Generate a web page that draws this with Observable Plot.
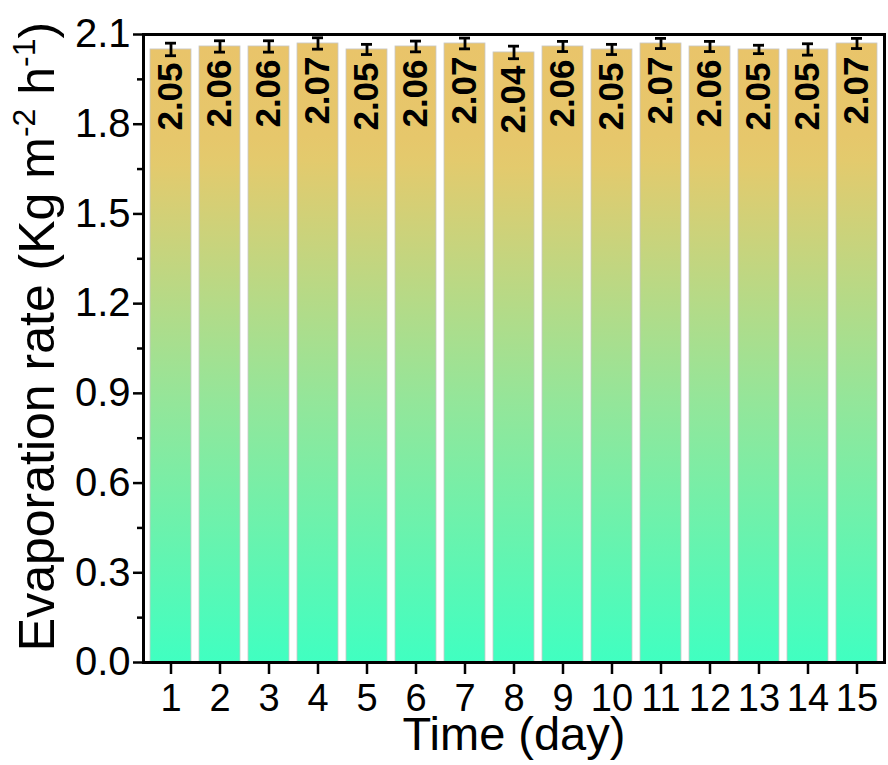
<!DOCTYPE html>
<html><head><meta charset="utf-8">
<script src="https://cdn.jsdelivr.net/npm/d3@7"></script>
<script src="https://cdn.jsdelivr.net/npm/@observablehq/plot@0.6"></script>
<style>body{margin:0;background:#fff}</style>
</head><body><div id="chart"></div>
<script>
const days = ["1","2","3","4","5","6","7","8","9","10","11","12","13","14","15"];
const rates = [2.05,2.06,2.06,2.07,2.05,2.06,2.07,2.04,2.06,2.05,2.07,2.06,2.05,2.05,2.07];
const errors = [0.021,0.019,0.019,0.019,0.017,0.018,0.018,0.021,0.017,0.017,0.017,0.017,0.014,0.019,0.017];
const rateLabels = ["2.05","2.06","2.06","2.07","2.05","2.06","2.07","2.04","2.06","2.05","2.07","2.06","2.05","2.05","2.07"];
const yTicks = [0,0.3,0.6,0.9,1.2,1.5,1.8,2.1];
const yMinorTicks = [0.15,0.45,0.75,1.05,1.35,1.65,1.95];
const xTitle = "Time (day)";
const yTitleParts = ["Evaporation rate (Kg m", "-2", " h", "-1", ")"];
const yTitle = yTitleParts.join("");

const data = days.map((d, i) => ({day: d, rate: rates[i], err: errors[i], label: rateLabels[i]}));
const font = "'Liberation Sans', Arial, Helvetica, sans-serif";

const plot = Plot.plot({
  width: 888, height: 765,
  marginLeft: 143, marginRight: 4, marginTop: 34, marginBottom: 103,
  style: {fontFamily: font, background: "white", color: "black"},
  x: {domain: days, padding: 0},
  y: {domain: [0, 2.1]},
  marks: [
    Plot.barY(data, {x: "day", y: "rate", fill: "url(#evapGradient)", stroke: "#c8c8c8", strokeWidth: 0.8, insetLeft: 4, insetRight: 4}),
    Plot.ruleX(data, {x: "day", y1: d => d.rate - d.err, y2: d => d.rate + d.err, stroke: "black", strokeWidth: 2.8}),
    Plot.tickY(data, {x: "day", y: d => d.rate + d.err, stroke: "black", strokeWidth: 2.8, insetLeft: 19, insetRight: 19}),
    Plot.tickY(data, {x: "day", y: d => d.rate - d.err, stroke: "black", strokeWidth: 2.8, insetLeft: 19, insetRight: 19}),
    Plot.text(data, {x: "day", y: "rate", text: "label", rotate: -90, textAnchor: "end", dy: 13, fontSize: 35, fontWeight: "bold", fill: "black"}),
    Plot.axisY({ticks: yTicks, tickFormat: d3.format(".1f"), fontSize: 40, tickSize: 10, tickPadding: 3, strokeWidth: 2.5, label: null}),
    Plot.axisY({ticks: yMinorTicks, tickSize: 6, text: null, strokeWidth: 2.5, label: null}),
    Plot.axisX({fontSize: 38, tickSize: 12, tickPadding: 10, strokeWidth: 2.5, label: null}),
    Plot.frame({stroke: "black", strokeWidth: 3}),
    Plot.text([xTitle], {text: d => d, frameAnchor: "bottom", dy: 87, fontSize: 47, fill: "black"}),
    Plot.text([yTitle], {text: d => d, frameAnchor: "left", textAnchor: "middle", dx: -106, dy: -12, rotate: -90, fontSize: 50, fill: "black"})
  ]
});

const svg = plot.tagName.toLowerCase() === "svg" ? plot : plot.querySelector("svg");
const ns = "http://www.w3.org/2000/svg";
const defs = document.createElementNS(ns, "defs");
const grad = document.createElementNS(ns, "linearGradient");
grad.setAttribute("id", "evapGradient");
grad.setAttribute("x1", "0"); grad.setAttribute("y1", "0");
grad.setAttribute("x2", "0"); grad.setAttribute("y2", "1");
[["0", "#E9C46A"], ["0.15", "#E6C76B"], ["0.19", "#E3CA6D"], ["0.58", "#93E69A"], ["1", "#40FFC1"]].forEach(([o, c]) => {
  const s = document.createElementNS(ns, "stop");
  s.setAttribute("offset", o); s.setAttribute("stop-color", c);
  grad.appendChild(s);
});
defs.appendChild(grad);
svg.insertBefore(defs, svg.firstChild);

const yt = [...svg.querySelectorAll("text")].find(e => e.textContent === yTitle);
if (yt) {
  yt.textContent = "";
  yTitleParts.forEach((p, i) => {
    const ts = document.createElementNS(ns, "tspan");
    ts.textContent = p;
    if (i % 2 === 1) { ts.setAttribute("font-size", "32"); ts.setAttribute("dy", "-19"); }
    else if (i > 0) { ts.setAttribute("dy", "19"); }
    yt.appendChild(ts);
  });
}
document.getElementById("chart").appendChild(plot);
</script>
</body></html>
